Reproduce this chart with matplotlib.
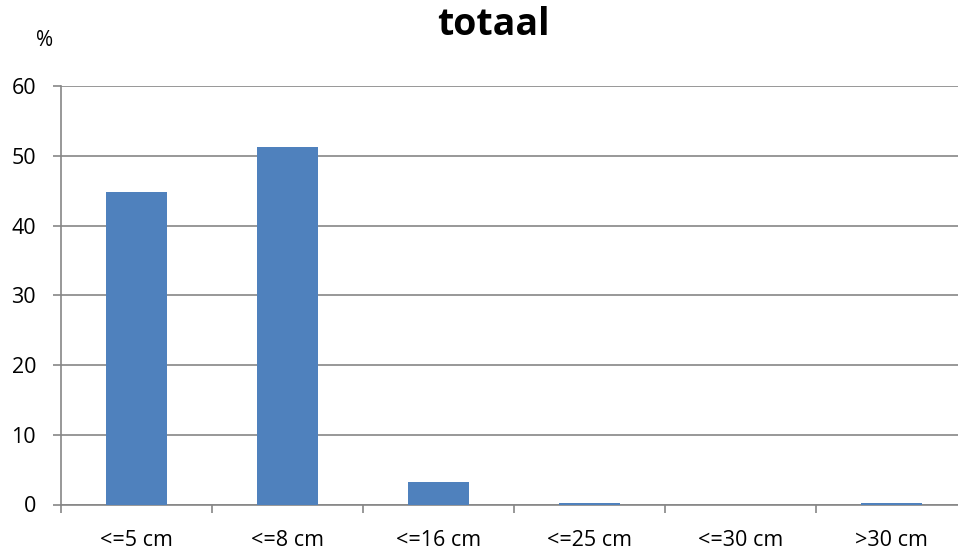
import matplotlib
matplotlib.use("Agg")
import matplotlib.pyplot as plt
import numpy as np

plt.rcParams["font.family"] = ["Open Sans", "DejaVu Sans"]

categories = ["<=5 cm", "<=8 cm", "<=16 cm", "<=25 cm", "<=30 cm", ">30 cm"]
percent = [44.85, 51.3, 3.27, 0.15, 0.0, 0.15]
y_ticks = [0, 10, 20, 30, 40, 50, 60]

W, H = 958, 554
fig = plt.figure(figsize=(W / 100, H / 100), dpi=100)
ax = fig.add_axes([61 / W, (H - 504.5) / H, (967 - 61) / W, (504.5 - 86) / H])

x = np.arange(len(categories))
ax.bar(x, percent, width=0.40, color="#4F81BD", zorder=3)

ax.set_xlim(-0.5, len(categories) - 0.5)
ax.set_ylim(0, 60)
ax.set_yticks(y_ticks)
ax.yaxis.grid(True, color="#868686", linewidth=1.2, zorder=0)

# category ticks sit on the boundaries, labels in the middle
ax.set_xticks(np.arange(len(categories) + 1) - 0.5)
ax.set_xticklabels([])
ax.set_xticks(x, minor=True)
ax.set_xticklabels(categories, minor=True)
ax.tick_params(axis="x", which="minor", length=0, pad=18, labelsize=15.5)
ax.tick_params(axis="x", which="major", length=6, color="#868686", width=1.2)
ax.tick_params(axis="y", length=6, color="#868686", width=1.2, pad=12, labelsize=15.5)

for side in ("top", "right"):
    ax.spines[side].set_visible(False)
for side in ("left", "bottom"):
    ax.spines[side].set_color("#868686")
    ax.spines[side].set_linewidth(1.2)

fig.text(493 / W, 1 - 25 / H, "totaal", ha="center", va="center",
         fontsize=27, fontweight="bold")
fig.text(45 / W, 1 - 41 / H, "%", ha="center", va="center", fontsize=15)

fig.savefig("out.png", dpi=100)
